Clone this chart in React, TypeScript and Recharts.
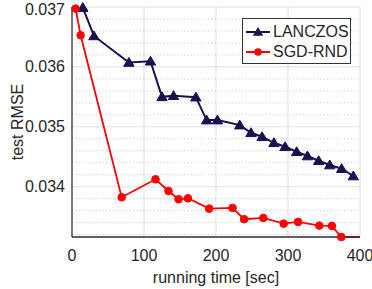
import React from 'react';
import { LineChart, Line, XAxis, YAxis, CartesianGrid, ReferenceLine, Legend } from 'recharts';

const lanczosTime = [15, 30.5, 79, 109, 125, 141, 172, 187, 202, 233, 248.6, 264, 280.5, 296, 312, 327, 342.6, 358, 374.5, 390.7];
const lanczosRmse = [0.03699, 0.036517, 0.036073, 0.036095, 0.0355, 0.03552, 0.035495, 0.035112, 0.035112, 0.035028, 0.0349, 0.034833, 0.034733, 0.034667, 0.034583, 0.034512, 0.034433, 0.034362, 0.0343, 0.034178];

const sgdTime = [5, 12, 69, 116, 134, 148, 161, 190.5, 223, 239, 265.7, 294, 314, 343.5, 361, 374, 400];
const sgdRmse = [0.036973, 0.036528, 0.033823, 0.034123, 0.033928, 0.03379, 0.033807, 0.033633, 0.033645, 0.033457, 0.033478, 0.033383, 0.033412, 0.03335, 0.033345, 0.03316, 0.03316];

const xTicks = [0, 100, 200, 300, 400];
const yTicks = [0.034, 0.035, 0.036, 0.037];
const yMinorTicks = [0.0332, 0.0334, 0.0336, 0.0338, 0.0342, 0.0344, 0.0346, 0.0348, 0.0352, 0.0354, 0.0356, 0.0358, 0.0362, 0.0364, 0.0366, 0.0368];
const yLabels = ['0.034', '0.035', '0.036', '0.037'];

const lanczosData = lanczosTime.map((t, i) => ({ t, v: lanczosRmse[i] }));
const sgdData = sgdTime.map((t, i) => ({ t, v: sgdRmse[i] }));

const NAVY = '#1c0f50';
const RED = '#ff0000';
const FONT = '"Liberation Sans", Arial, Helvetica, sans-serif';
const TEXT = '#262626';
const FS = 16;

const Triangle = (props: any) => {
  const { cx, cy, index } = props;
  if (cx == null || cy == null) return <g key={`t${index}`} />;
  return (
    <path
      key={`t${index}`}
      d={`M${cx},${cy - 5} L${cx + 5.2},${cy + 3.8} L${cx - 5.2},${cy + 3.8} Z`}
      fill={NAVY}
      stroke={NAVY}
      strokeWidth={1}
    />
  );
};

const RedDot = (props: any) => {
  const { cx, cy, index } = props;
  if (cx == null || cy == null || index === sgdData.length - 1) return <g key={`d${index}`} />;
  return <circle key={`d${index}`} cx={cx} cy={cy} r={3.8} fill={RED} stroke={RED} />;
};

const XTick = (props: any) => {
  const { x, y, payload } = props;
  return (
    <text x={x} y={y + 18} textAnchor="middle" dominantBaseline="central" fontSize={FS} fontFamily={FONT} fill={TEXT}>
      {payload.value}
    </text>
  );
};

const YTick = (props: any) => {
  const { x, y, payload } = props;
  const idx = yTicks.indexOf(payload.value);
  return (
    <text x={x - 7} y={y} textAnchor="end" dominantBaseline="central" fontSize={FS} fontFamily={FONT} fill={TEXT}>
      {idx >= 0 ? yLabels[idx] : payload.value}
    </text>
  );
};

const LegendBox = () => (
  <div
    style={{
      width: 107,
      height: 44,
      border: '1px solid #333',
      background: '#fff',
      fontFamily: FONT,
      fontSize: FS,
      color: TEXT,
      boxSizing: 'content-box',
    }}
  >
    <div style={{ height: 22, display: 'flex', alignItems: 'center', position: 'relative', top: 2 }}>
      <svg width={28} height={14} style={{ marginLeft: 2 }}>
        <line x1={1} y1={7} x2={25} y2={7} stroke={NAVY} strokeWidth={2} />
        <path d="M13,2 L18.2,10.8 L7.8,10.8 Z" fill={NAVY} />
      </svg>
      <span>LANCZOS</span>
    </div>
    <div style={{ height: 22, display: 'flex', alignItems: 'center', position: 'relative', top: 0 }}>
      <svg width={28} height={14} style={{ marginLeft: 2 }}>
        <line x1={1} y1={7} x2={25} y2={7} stroke={RED} strokeWidth={2} />
        <circle cx={13} cy={7} r={3.8} fill={RED} />
      </svg>
      <span>SGD-RND</span>
    </div>
  </div>
);

export default function App() {
  return (
    <div style={{ position: 'absolute', left: 0, top: 0, width: 372, height: 289, background: '#fff' }}>
      <LineChart width={372} height={289} margin={{ top: 7, right: 12, left: 0, bottom: 0 }}>
        <CartesianGrid stroke="#e0e0e0" strokeWidth={1} />
        {yMinorTicks.map((v) => (
          <ReferenceLine key={v} y={v} stroke="#c4c4c4" strokeDasharray="1 2.4" strokeWidth={1} />
        ))}
        <XAxis
          dataKey="t"
          type="number"
          domain={[0, 400]}
          ticks={xTicks}
          height={52}
          tickSize={0}
          tickMargin={0}
          tickLine={false}
          tick={<XTick />}
          axisLine={{ stroke: '#333', strokeWidth: 1.3 }}
          label={{
            content: (p: any) => {
              const vb = p.viewBox || {};
              return (
                <text x={vb.x + vb.width / 2} y={277} textAnchor="middle" dominantBaseline="central" fontSize={FS} fontFamily={FONT} fill={TEXT}>
                  running time [sec]
                </text>
              );
            },
          }}
        />
        <YAxis
          dataKey="v"
          type="number"
          domain={[0.03316, 0.037]}
          ticks={yTicks}
          width={72}
          tickSize={0}
          tickMargin={0}
          tickLine={false}
          tick={<YTick />}
          axisLine={{ stroke: '#333', strokeWidth: 1.3 }}
          label={{
            content: (p: any) => {
              const vb = p.viewBox || {};
              const cx = 17;
              const cy = vb.y + vb.height / 2;
              return (
                <text x={cx} y={cy} transform={`rotate(-90 ${cx} ${cy})`} textAnchor="middle" dominantBaseline="central" fontSize={FS} fontFamily={FONT} fill={TEXT}>
                  test RMSE
                </text>
              );
            },
          }}
        />
        <Line
          data={lanczosData}
          dataKey="v"
          name="LANCZOS"
          stroke={NAVY}
          strokeWidth={2}
          dot={<Triangle />}
          isAnimationActive={false}
          type="linear"
        />
        <Line
          data={sgdData}
          dataKey="v"
          name="SGD-RND"
          stroke={RED}
          strokeWidth={1.8}
          dot={<RedDot />}
          isAnimationActive={false}
          type="linear"
        />
        <Legend
          layout="horizontal"
          verticalAlign="middle"
          align="center"
          content={<LegendBox />}
          wrapperStyle={{ position: 'absolute', left: 242, top: 18, width: 109, height: 46 }}
        />
      </LineChart>
    </div>
  );
}
